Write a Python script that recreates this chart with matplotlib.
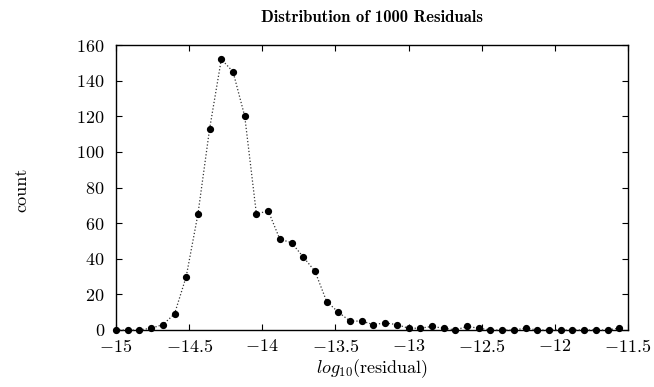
#!/usr/bin/env python3

import matplotlib
matplotlib.use("Agg")
import matplotlib.pyplot as plt
from matplotlib.ticker import FuncFormatter, MultipleLocator

# histogram of log10 residuals, bin width 0.08 starting at -15
bin_start = -15.0
bin_width = 0.08
counts = [
    0, 0, 0, 1, 3, 9, 30, 65, 113, 152,
    145, 120, 65, 67, 51, 49, 41, 33, 16, 10,
    5, 5, 3, 4, 3, 1, 1, 2, 1, 0,
    2, 1, 0, 0, 0, 1, 0, 0, 0, 0,
    0, 0, 0, 1,
]
centers = [bin_start + bin_width * i for i in range(len(counts))]

plt.rcParams["mathtext.fontset"] = "cm"
plt.rcParams["font.family"] = "serif"
plt.rcParams["font.serif"] = ["cmr10"]
plt.rcParams["axes.formatter.use_mathtext"] = True
plt.rcParams["axes.unicode_minus"] = True

FS = 13

fig = plt.figure(figsize=(6.54, 3.87), dpi=100)
ax = fig.add_axes([116 / 654, 1 - 330 / 387, 512 / 654, 285 / 387])

ax.plot(centers, counts, linestyle=":", color="#333333", linewidth=0.9,
        marker="o", markersize=4.2, markerfacecolor="black",
        markeredgecolor="black", clip_on=False, zorder=3)

ax.set_xlim(-15, -11.5)
ax.set_ylim(0, 160)
ax.xaxis.set_major_locator(MultipleLocator(0.5))
ax.yaxis.set_major_locator(MultipleLocator(20))
ax.xaxis.set_major_formatter(FuncFormatter(lambda v, p: f"${v:g}$"))
ax.yaxis.set_major_formatter(FuncFormatter(lambda v, p: f"${v:g}$"))

ax.tick_params(direction="in", top=True, right=True, length=4, width=0.8,
               labelsize=FS)
ax.tick_params(axis="y", pad=8)
ax.tick_params(axis="x", pad=6)
for s in ax.spines.values():
    s.set_linewidth(1.0)

fig.text(372 / 654, 1 - 17 / 387, "Distribution of 1000 Residuals",
         ha="center", va="center", fontsize=12, family="cmb10")
fig.text(22 / 654, 1 - 190 / 387, "count", rotation=90,
         ha="center", va="center", fontsize=FS)
fig.text(372 / 654, 1 - 369 / 387, r"$log_{10}$(residual)",
         ha="center", va="center", fontsize=FS)

fig.savefig("out.png", dpi=100)
